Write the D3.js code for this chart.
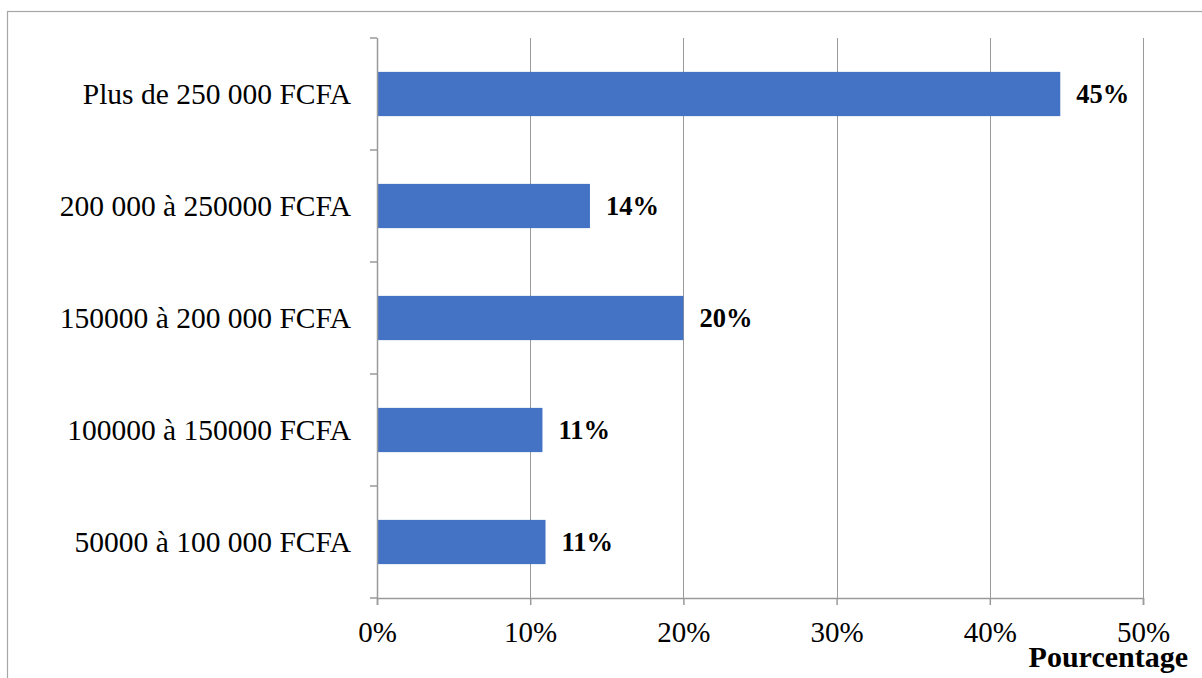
<!DOCTYPE html>
<html>
<head>
<meta charset="utf-8">
<script src="https://cdn.jsdelivr.net/npm/d3@7"></script>
<style>
  html, body { margin: 0; padding: 0; background: #fff; }
  svg { display: block; }
  text { font-family: "Liberation Serif", "Times New Roman", serif; fill: #000; }
</style>
</head>
<body>
<svg id="chart" width="1202" height="678"></svg>
<script>
// Income brackets (top to bottom) and share of respondents (%)
const categories = [
  "Plus de 250 000 FCFA",
  "200 000 à 250000 FCFA",
  "150000 à 200 000 FCFA",
  "100000 à 150000 FCFA",
  "50000 à 100 000 FCFA"
];
const shares = [44.6, 13.9, 20.0, 10.8, 11.0];
const xTicks = [0, 10, 20, 30, 40, 50];
const axisTitle = "Pourcentage";

const svg = d3.select("#chart");
const W = 1202, H = 678;
const margin = { left: 377, right: 59, top: 38, bottom: 80 };
const plotW = W - margin.left - margin.right;
const plotH = H - margin.top - margin.bottom;
const gridColor = "#9a9a9a";

// outer frame
svg.append("rect")
  .attr("x", 7.5).attr("y", 11.5)
  .attr("width", W).attr("height", H)
  .attr("fill", "none").attr("stroke", "#a6a6a6").attr("stroke-width", 1.2);

const x = d3.scaleLinear().domain([0, 50]).range([0, plotW]);
const y = d3.scaleBand().domain(categories).range([0, plotH]).paddingInner(0.605).paddingOuter(0.3025);

const g = svg.append("g").attr("transform", `translate(${margin.left},${margin.top})`);

// vertical gridlines
g.append("g").selectAll("line")
  .data(xTicks.filter(t => t > 0))
  .join("line")
  .attr("x1", d => Math.round(x(d)) + 0.5).attr("x2", d => Math.round(x(d)) + 0.5)
  .attr("y1", 0).attr("y2", plotH)
  .attr("stroke", gridColor).attr("stroke-width", 1);

// bars
g.append("g").selectAll("rect")
  .data(categories)
  .join("rect")
  .attr("x", 0)
  .attr("y", d => y(d))
  .attr("width", (d, i) => x(shares[i]))
  .attr("height", y.bandwidth())
  .attr("fill", "#4472C4");

// value labels
g.append("g").selectAll("text")
  .data(categories)
  .join("text")
  .attr("x", (d, i) => x(shares[i]) + 16)
  .attr("y", d => y(d) + y.bandwidth() / 2)
  .attr("dy", "0.35em")
  .attr("font-size", 26.5)
  .attr("font-weight", "bold")
  .text((d, i) => Math.round(shares[i]) + "%");

// x axis
const xAxis = g.append("g")
  .attr("transform", `translate(0,${plotH})`)
  .call(d3.axisBottom(x).tickValues(xTicks).tickFormat(d => d + "%").tickSize(7).tickPadding(16));
xAxis.select(".domain").attr("stroke", gridColor).attr("stroke-width", 1.5);
xAxis.selectAll(".tick line").attr("stroke", gridColor).attr("stroke-width", 1.5);
xAxis.selectAll(".tick text")
  .attr("font-family", "Liberation Serif, Times New Roman, serif")
  .attr("font-size", 29).attr("fill", "#000");

// y axis with category boundary ticks
const yAxisG = g.append("g");
yAxisG.append("line")
  .attr("x1", 0.5).attr("x2", 0.5).attr("y1", 0).attr("y2", plotH)
  .attr("stroke", gridColor).attr("stroke-width", 1.5);
const step = plotH / categories.length;
yAxisG.selectAll("line.tk")
  .data(d3.range(categories.length + 1))
  .join("line").attr("class", "tk")
  .attr("x1", -7).attr("x2", 0)
  .attr("y1", d => d * step).attr("y2", d => d * step)
  .attr("stroke", gridColor).attr("stroke-width", 1.5);
yAxisG.selectAll("text")
  .data(categories)
  .join("text")
  .attr("x", -26)
  .attr("y", d => y(d) + y.bandwidth() / 2)
  .attr("dy", "0.35em")
  .attr("text-anchor", "end")
  .attr("font-size", 29.5)
  .text(d => d);

// axis title
svg.append("text")
  .attr("x", 1188).attr("y", 667)
  .attr("text-anchor", "end")
  .attr("font-size", 30)
  .attr("font-weight", "bold")
  .text(axisTitle);
</script>
</body>
</html>
